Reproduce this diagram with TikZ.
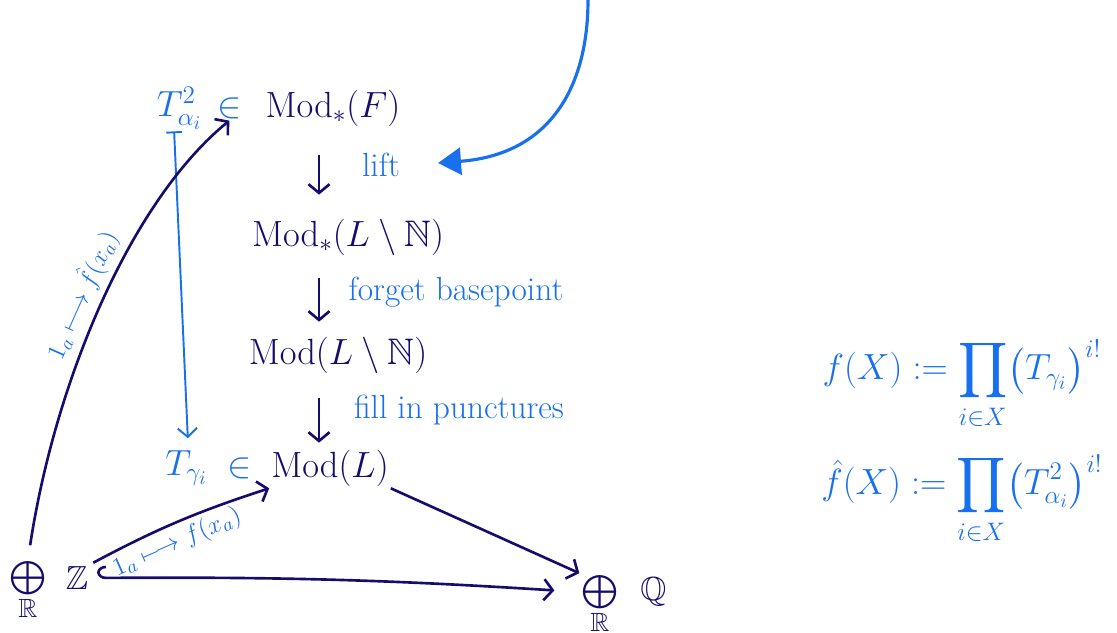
\documentclass[tikz,border=0pt]{standalone}
\usepackage{amsmath,amssymb}
\usepackage{tikz}
\usetikzlibrary{arrows.meta,positioning}
\definecolor{ink}{RGB}{22,12,108}
\definecolor{pen}{RGB}{24,112,238}

\begin{document}
\begin{tikzpicture}[
  mod/.style={text=ink, inner sep=1pt, font=\fontsize{21}{25}\selectfont},
  tw/.style={text=pen, inner sep=1pt, font=\fontsize{21}{25}\selectfont},
  sum/.style={text=ink, inner sep=1pt, font=\fontsize{19}{23}\selectfont},
  sub/.style={text=ink, inner sep=1pt, font=\fontsize{15}{17}\selectfont},
  note/.style={text=pen, font=\fontsize{19}{22}\selectfont},
  lbl/.style={text=pen, inner sep=3pt, font=\fontsize{15}{17}\selectfont},
  arr/.style={draw=ink, line width=1.5pt, -{Straight Barb[length=5pt,width=12pt]}},
  maparr/.style={draw=pen, line width=1.1pt,
    {Bar[width=9pt]}-{Straight Barb[length=5pt,width=11pt]}},
  bigarr/.style={draw=pen, line width=1.8pt,
    -{Triangle[length=0.46cm,width=0.54cm]}},
]
\useasboundingbox (0,0) rectangle (22.34,12.64);

% MAIN COLUMN
\node[mod] (modF) at (6.66,10.48) {$\mathrm{Mod}_*(F)$};
\node[tw, left=0.4cm of modF] (in1) {$\in$};
\node[tw, left=0.22cm of in1] (Ta) {$T_{\alpha_i}^{2}$};
\node[mod] (modLNs) at (6.96,7.9) {$\mathrm{Mod}_*(L\setminus\mathbb{N})$};
\node[mod] (modLN) at (6.76,5.54) {$\mathrm{Mod}(L\setminus\mathbb{N})$};
\node[mod] (modL) at (6.6,3.28) {$\mathrm{Mod}(L)$};
\node[tw, left=0.3cm of modL] (in2) {$\in$};
\node[tw, left=0.32cm of in2] (Tg) {$T_{\gamma_i}$};

% ARROW LABELS
\node[note] (lift) at (7.62,9.34) {lift};
\node[note] (forget) at (9.12,6.8) {forget basepoint};
\node[note] (fill) at (9.18,4.44) {fill in punctures};

% SUMS
\node[sum] (opZ) at (0.56,1.08) {$\bigoplus$};
\node[sub, below=0pt of opZ] (RZ) {$\mathbb{R}$};
\node[sum, right=0.3cm of opZ] (Z) {$\mathbb{Z}$};
\node[sum] (opQ) at (12.0,0.8) {$\bigoplus$};
\node[sub, below=0pt of opQ] (RQ) {$\mathbb{R}$};
\node[sum, right=0.35cm of opQ] (Q) {$\mathbb{Q}$};

% DEFINITIONS
\node[tw, font=\fontsize{22}{26}\selectfont] (fdef) at (19.24,4.94)
  {$f(X) \mathrel{:=} \displaystyle\prod_{i\in X} \bigl(T_{\gamma_i}\bigr)^{i!}$};
\node[tw, font=\fontsize{22}{26}\selectfont] (fhat) at (19.24,2.64)
  {$\hat f(X) \mathrel{:=} \displaystyle\prod_{i\in X} \bigl(T_{\alpha_i}^{2}\bigr)^{i!}$};

% ARROWS
\coordinate (col) at (6.38,0);
\coordinate (top) at (11.76,12.64);
\coordinate (liftin) at (8.76,9.38);
\draw[arr, shorten <=0.54cm, shorten >=0.44cm] (modF.south -| col) -- (modLNs.north -| col);
\draw[arr, shorten <=0.42cm, shorten >=0.26cm] (modLNs.south -| col) -- (modLN.north -| col);
\draw[arr, shorten <=0.46cm, shorten >=0.1cm] (modLN.south -| col) -- (modL.north -| col);
\draw[bigarr] (top) .. controls (11.76,10.9) and (11.0,9.55) .. (liftin);
\draw[maparr, shorten >=0.2cm] ([xshift=-3pt]Ta.south) -- ([xshift=1pt]Tg.north);
\draw[arr, shorten <=8pt] (opZ.north) .. controls (1.1,5.0) and (2.6,8.6) .. (in1.south)
  node[lbl, pos=0.5, above, sloped] {$1_a \longmapsto \hat f(x_a)$};
\draw[arr, shorten <=2pt] (Z.north east) to[bend left=5]
  node[lbl, pos=0.45, below, sloped] {$1_a \longmapsto f(x_a)$} (modL.south west);
\draw[arr] (modL.south east) -- (opQ.north west);
\draw[arr, {Hooks[right,length=5pt,width=14pt]}-{Straight Barb[length=5pt,width=12pt]},
  shorten <=4pt, shorten >=0.5cm] (Z.east) to[bend left=2] (opQ.west);
\end{tikzpicture}
\end{document}
